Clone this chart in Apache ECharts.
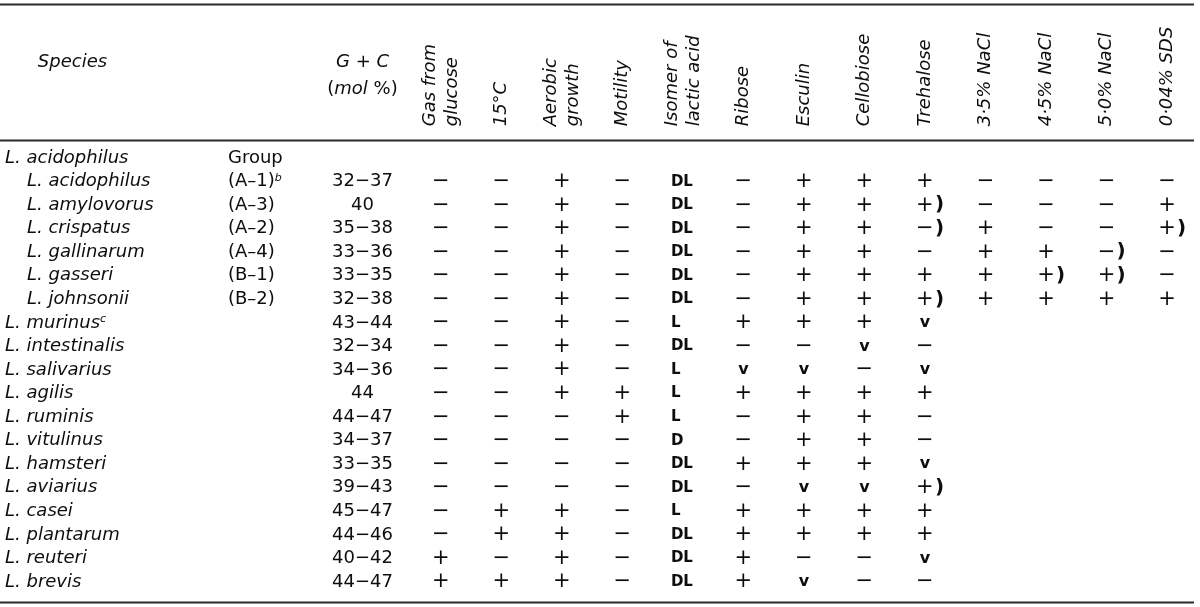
<!DOCTYPE html>
<html>
<head>
<meta charset="utf-8">
<script src="https://cdn.jsdelivr.net/npm/echarts@6/dist/echarts.min.js"></script>
<style>
html,body{margin:0;padding:0;background:#fff;}
#c{width:1200px;height:607px;}
</style>
</head>
<body>
<div id="c"></div>
<script>
// ---------------- data ----------------
const species = ['L. acidophilus','L. acidophilus','L. amylovorus','L. crispatus','L. gallinarum','L. gasseri','L. johnsonii','L. murinus','L. intestinalis','L. salivarius','L. agilis','L. ruminis','L. vitulinus','L. hamsteri','L. aviarius','L. casei','L. plantarum','L. reuteri','L. brevis'];
const speciesIndent = [0,1,1,1,1,1,1,0,0,0,0,0,0,0,0,0,0,0,0];
const speciesNote = ['','','','','','','','c','','','','','','','','','','',''];
const groups = ['Group','(A–1)','(A–3)','(A–2)','(A–4)','(B–1)','(B–2)','','','','','','','','','','','',''];
const groupNote = ['','b','','','','','','','','','','','','','','','','',''];
const gcMolPct = ['','32−37','40','35−38','33−36','33−35','32−38','43−44','32−34','34−36','44','44−47','34−37','33−35','39−43','45−47','44−46','40−42','44−47'];

const leftHeads = ['Species', '', 'G + C'];
const gcUnit = 'mol %';
const testNames = ['Gas from\nglucose','15°C','Aerobic\ngrowth','Motility','Isomer of\nlactic acid','Ribose','Esculin','Cellobiose','Trehalose','3·5% NaCl','4·5% NaCl','5·0% NaCl','0·04% SDS'];

const gasFromGlucose = ['','−','−','−','−','−','−','−','−','−','−','−','−','−','−','−','−','+','+'];
const growth15C      = ['','−','−','−','−','−','−','−','−','−','−','−','−','−','−','+','+','−','+'];
const aerobicGrowth  = ['','+','+','+','+','+','+','+','+','+','+','−','−','−','−','+','+','+','+'];
const motility       = ['','−','−','−','−','−','−','−','−','−','+','+','−','−','−','−','−','−','−'];
const lacticIsomer   = ['','DL','DL','DL','DL','DL','DL','L','DL','L','L','L','D','DL','DL','L','DL','DL','DL'];
const ribose         = ['','−','−','−','−','−','−','+','−','v','+','−','−','+','−','+','+','+','+'];
const esculin        = ['','+','+','+','+','+','+','+','−','v','+','+','+','+','v','+','+','−','v'];
const cellobiose     = ['','+','+','+','+','+','+','+','v','−','+','+','+','+','v','+','+','−','−'];
const trehalose      = ['','+','+)','−)','−','+','+)','v','−','v','+','−','−','v','+)','+','+','v','−'];
const nacl35         = ['','−','−','+','+','+','+','','','','','','','','','','','',''];
const nacl45         = ['','−','−','−','+','+)','+','','','','','','','','','','','',''];
const nacl50         = ['','−','−','−','−)','+)','+','','','','','','','','','','','',''];
const sds004         = ['','−','+','+)','−','−','+','','','','','','','','','','','',''];

const testColumns = [gasFromGlucose, growth15C, aerobicGrowth, motility, lacticIsomer, ribose, esculin, cellobiose, trehalose, nacl35, nacl45, nacl50, sds004];

// ---------------- layout / style ----------------
const FONT = '"DejaVu Sans", sans-serif';
const INK = '#0d0d0d';
const ROW_H = 23.55;
const TOP = 146.3;
const rowIdx = species.map((_, i) => String(i));
const gridH = species.length * ROW_H;

const leftCols = [species, groups, gcMolPct];
const leftCells = [];
leftCols.forEach((col, c) => col.forEach((t, r) => { if (t) leftCells.push({ c, r, t }); }));
const rightCells = [];
testColumns.forEach((col, c) => col.forEach((t, r) => { if (t) rightCells.push({ c, r, t }); }));

const chart = echarts.init(document.getElementById('c'), null, { renderer: 'canvas' });

const option = {
  animation: false,
  backgroundColor: '#fff',
  grid: [
    { left: 0, top: TOP, width: 435, height: gridH },
    { left: 410.6, top: TOP, width: 786.6, height: gridH }
  ],
  xAxis: [
    {
      gridIndex: 0, type: 'category', position: 'top', data: leftHeads,
      axisLine: { show: false }, axisTick: { show: false }, splitLine: { show: false },
      axisLabel: {
        interval: 0, margin: 97, verticalAlign: 'top',
        formatter: (v, i) => {
          if (!v) return '';
          if (i === 2) return '{it|' + v + '}\n{rm|(}{it|' + gcUnit.split(' ')[0] + '}{rm| ' + gcUnit.split(' ')[1] + ')}';
          return '{it|' + v + '}';
        },
        rich: {
          it: { fontFamily: FONT, fontStyle: 'italic', fontSize: 18, color: INK, lineHeight: 27 },
          rm: { fontFamily: FONT, fontSize: 18, color: INK, lineHeight: 27 }
        }
      }
    },
    {
      gridIndex: 1, type: 'category', position: 'top', data: testNames,
      axisLine: { show: false }, axisTick: { show: false }, splitLine: { show: false },
      axisLabel: {
        interval: 0, rotate: -90, margin: 20,
        fontFamily: FONT, fontStyle: 'italic', fontSize: 18, color: INK, lineHeight: 22
      }
    }
  ],
  yAxis: [
    { gridIndex: 0, type: 'category', inverse: true, data: rowIdx, show: false },
    { gridIndex: 1, type: 'category', inverse: true, data: rowIdx, show: false }
  ],
  graphic: [
    { type: 'line', shape: { x1: 0, y1: 4.5, x2: 1194, y2: 4.5 }, style: { stroke: '#2a2a2a', lineWidth: 2 } },
    { type: 'line', shape: { x1: 0, y1: 140.5, x2: 1194, y2: 140.5 }, style: { stroke: '#2a2a2a', lineWidth: 2 } },
    { type: 'line', shape: { x1: 0, y1: 602.5, x2: 1194, y2: 602.5 }, style: { stroke: '#2a2a2a', lineWidth: 2 } }
  ],
  series: [
    {
      type: 'custom', xAxisIndex: 0, yAxisIndex: 0, clip: false,
      data: leftCells.map(d => [d.c, d.r]),
      renderItem: (params, api) => {
        const d = leftCells[params.dataIndex];
        const p = api.coord([api.value(0), api.value(1)]);
        const rich = {
          it: { fontFamily: FONT, fontStyle: 'italic', fontSize: 18, fill: INK },
          rm: { fontFamily: FONT, fontSize: 18, fill: INK },
          sup: { fontFamily: FONT, fontStyle: 'italic', fontSize: 11, fill: INK, verticalAlign: 'top' }
        };
        let text, x, align = 'left';
        if (d.c === 0) {
          text = '{it|' + d.t + '}' + (speciesNote[d.r] ? '{sup|' + speciesNote[d.r] + '}' : '');
          x = p[0] - 67.5 + speciesIndent[d.r] * 22;
        } else if (d.c === 1) {
          text = '{rm|' + d.t + '}' + (groupNote[d.r] ? '{sup|' + groupNote[d.r] + '}' : '');
          x = p[0] + 10.5;
        } else {
          text = '{rm|' + d.t + '}';
          x = p[0];
          align = 'center';
        }
        return { type: 'text', x: x, y: p[1], style: { text: text, rich: rich, align: align, verticalAlign: 'middle', fill: INK } };
      }
    },
    {
      type: 'custom', xAxisIndex: 1, yAxisIndex: 1, clip: false,
      data: rightCells.map(d => [d.c, d.r]),
      renderItem: (params, api) => {
        const d = rightCells[params.dataIndex];
        const p = api.coord([api.value(0), api.value(1)]);
        const base = d.t.replace(')', '');
        const children = [];
        let font = '21px ' + FONT, align = 'center', x = p[0];
        if (/^[DL]+$/.test(base)) { font = 'bold 15px ' + FONT; align = 'left'; x = p[0] - 12; }
        else if (base === 'v') { font = 'bold 16px ' + FONT; }
        children.push({ type: 'text', x: x, y: p[1], style: { text: base, font: font, fill: INK, align: align, verticalAlign: 'middle' } });
        if (d.t.indexOf(')') >= 0) {
          children.push({ type: 'text', x: p[0] + 10, y: p[1], style: { text: ')', font: 'bold 20px ' + FONT, fill: INK, align: 'left', verticalAlign: 'middle' } });
        }
        return { type: 'group', children: children };
      }
    }
  ]
};
chart.setOption(option);
</script>
</body>
</html>
